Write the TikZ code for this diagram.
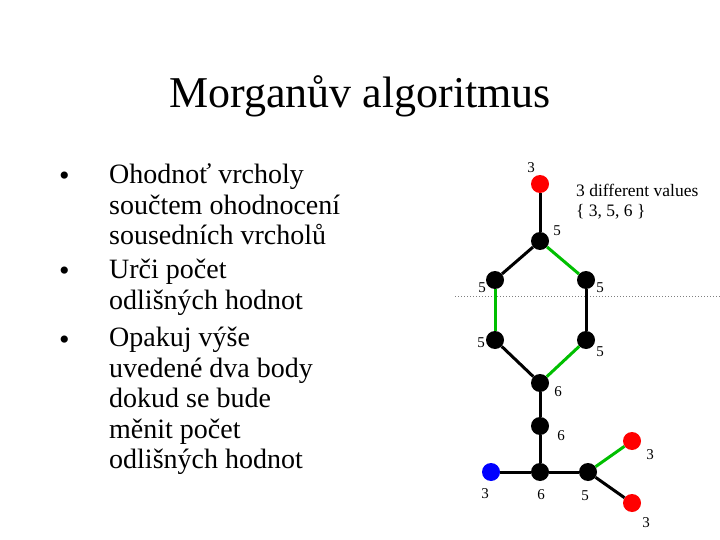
\documentclass[tikz,border=0pt]{standalone}
\usepackage{fontspec}
\setmainfont{Liberation Serif}
\usepackage{tikz}

\tikzset{
  vtx/.style={circle, fill=black, inner sep=0pt, minimum size=18pt},
  redvtx/.style={vtx, fill=red},
  bluevtx/.style={vtx, fill=blue},
  val/.style={font=\fontsize{15}{17}\selectfont, inner sep=0pt},
  grn/.style={draw=green!75!black, line width=3pt},
  blk/.style={draw=black, line width=3pt},
  item/.style={anchor=north west, align=left, inner sep=0pt,
    font=\fontsize{28}{30.5}\selectfont},
  dot/.style={anchor=north west, inner sep=0pt, font=\fontsize{30}{30}\selectfont}
}

\begin{document}
\begin{tikzpicture}[x=1pt, y=-1pt]
        \useasboundingbox (0, 0) rectangle (720, 540);
        \node[font=\fontsize{44}{50}\selectfont, anchor=base] (title) at (360, 108) {Morganův algoritmus};
        % text on the left
        \node[dot] (d1) at (59, 172) {•};
        \node[item] (i1) at (109, 164) {Ohodnoť vrcholy\\součtem ohodnocení\\sousedních vrcholů};
        \node[dot] (d2) at (59, 267) {•};
        \node[item] (i2) at (109, 259) {Urči počet\\odlišných hodnot};
        \node[dot] (d3) at (59, 336) {•};
        \node[item] (i3) at (109, 327) {Opakuj výše\\uvedené dva body\\dokud se bude\\měnit počet\\odlišných hodnot};
        % the graph
        \draw[gray, dotted, line width=1pt] (455, 296) coordinate (l0) -- (720, 296) coordinate (l1);
        \node[redvtx] (t) at (540, 184) {};
        \node[vtx] (a) at (540, 241) {};
        \node[vtx] (bl) at (495, 280) {};
        \node[vtx] (br) at (586, 280) {};
        \node[vtx] (cl) at (495, 340) {};
        \node[vtx] (cr) at (586, 340) {};
        \node[vtx] (e) at (540, 383) {};
        \node[vtx] (f) at (540, 426) {};
        \node[vtx] (g) at (540, 472) {};
        \node[bluevtx] (b) at (491, 472) {};
        \node[vtx] (h) at (588, 472) {};
        \node[redvtx] (r1) at (632, 441) {};
        \node[redvtx] (r2) at (632, 503) {};
        \draw[blk] (t) -- (a);
        \draw[blk] (a) -- (bl);
        \draw[grn] (a) -- (br);
        \draw[grn] (bl) -- (cl);
        \draw[blk] (br) -- (cr);
        \draw[blk] (cl) -- (e);
        \draw[grn] (cr) -- (e);
        \draw[blk] (e) -- (f);
        \draw[blk] (f) -- (g);
        \draw[blk] (b) -- (g);
        \draw[blk] (g) -- (h);
        \draw[grn] (h) -- (r1);
        \draw[blk] (h) -- (r2);
        % values
        \node[val] (vt) at (531, 168) {3};
        \node[val] (va) at (557, 231) {5};
        \node[val] (vbl) at (482, 288) {5};
        \node[val] (vbr) at (600, 288) {5};
        \node[val] (vcl) at (481, 343) {5};
        \node[val] (vcr) at (600, 352) {5};
        \node[val] (ve) at (558, 392) {6};
        \node[val] (vf) at (561, 436) {6};
        \node[val] (vg) at (541, 495) {6};
        \node[val] (vb) at (485, 494) {3};
        \node[val] (vh) at (585, 496) {5};
        \node[val] (vr1) at (650, 455) {3};
        \node[val] (vr2) at (646, 523) {3};
        \node[anchor=north west, align=left, inner sep=0pt, font=\fontsize{17.5}{20}\selectfont] (info) at (576, 184) {3 different values\\\{ 3, 5, 6 \}};
\end{tikzpicture}
\end{document}
